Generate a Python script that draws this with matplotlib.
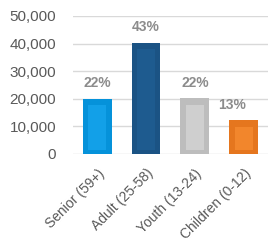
import matplotlib
matplotlib.use("Agg")
import matplotlib.pyplot as plt
from matplotlib.ticker import FuncFormatter

categories = ["Senior (59+)", "Adult (25-58)", "Youth (13-24)", "Children (0-12)"]
values = [20000, 40300, 20100, 12300]
percent_labels = ["22%", "43%", "22%", "13%"]
outer_colors = ["#0592DA", "#1B5384", "#BDBDBD", "#E5761E"]
inner_colors = ["#12A0E8", "#1E5B8F", "#CFCFCF", "#F2862C"]

plt.rcParams['font.family'] = ['Liberation Sans', 'DejaVu Sans']

fig = plt.figure(figsize=(2.68, 2.42), dpi=100)
ax = fig.add_axes([0.272, 0.364, 0.728, 0.57])

x = list(range(len(categories)))
bw = 0.59
ax.bar(x, values, width=bw, color=outer_colors, zorder=3, linewidth=0)
inset_y = 1500
ax.bar(x, [v - 2.6 * inset_y for v in values], width=bw * 0.62,
       bottom=inset_y, color=inner_colors, zorder=4, linewidth=0)

for i, (v, p) in enumerate(zip(values, percent_labels)):
    dx = -8 if i == len(values) - 1 else 0
    ax.annotate(p, (i, v), xytext=(dx, 6), textcoords="offset points",
                ha="center", va="bottom", fontsize=10, fontweight="bold",
                color="#8C8C8C")

ax.set_xlim(-0.5, len(categories) - 0.5)
ax.set_ylim(0, 50000)
ax.set_yticks(range(0, 50001, 10000))
ax.yaxis.set_major_formatter(FuncFormatter(lambda v, _: f"{int(v):,}"))
ax.grid(axis="y", color="#D9D9D9", linewidth=1, zorder=0)
ax.set_axisbelow(True)
for s in ax.spines.values():
    s.set_visible(False)
ax.tick_params(axis="y", length=0, pad=12, labelsize=11, labelcolor="#595959")
ax.set_xticks(x)
ax.set_xticklabels(categories, rotation=45, ha="right", rotation_mode="anchor",
                   fontsize=10, color="#595959")
ax.tick_params(axis="x", length=0, pad=9)

fig.savefig("out.png", dpi=100)
